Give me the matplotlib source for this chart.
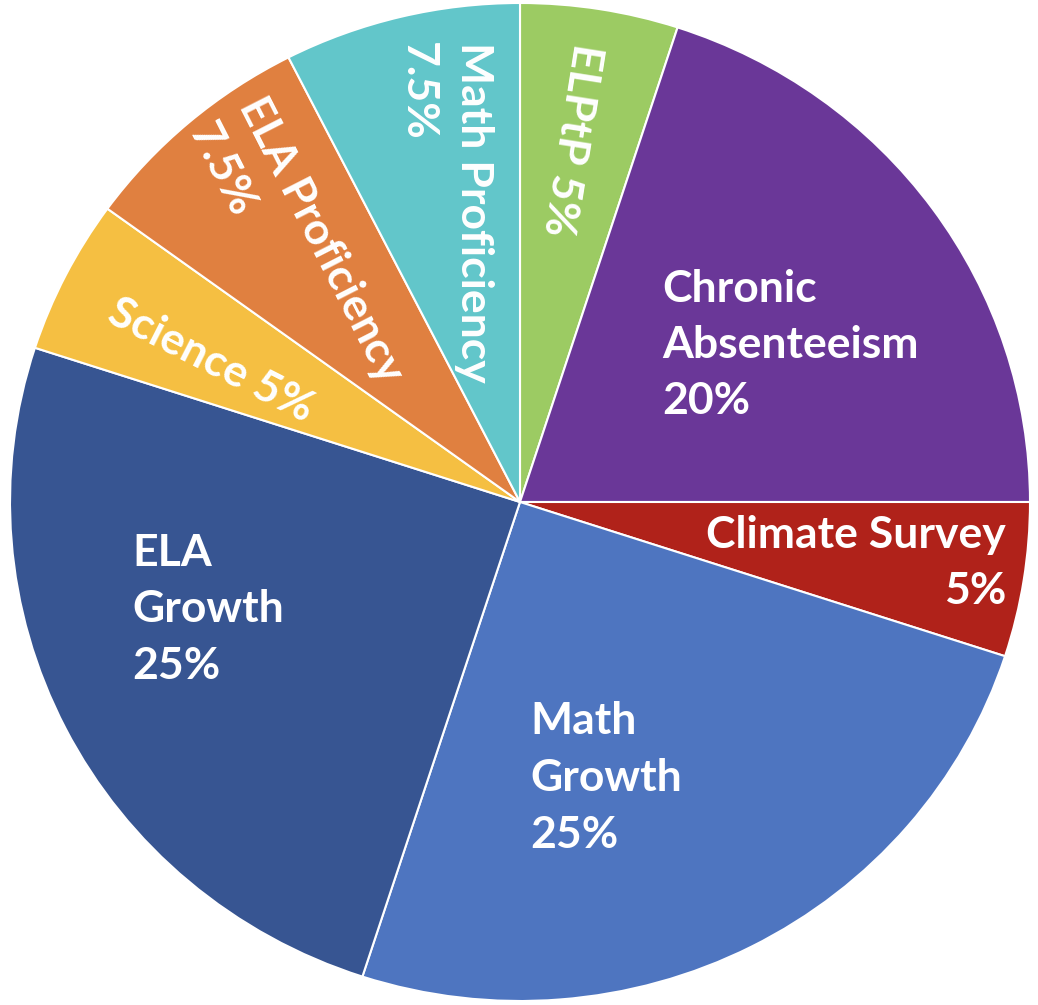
import matplotlib
matplotlib.use("Agg")
import matplotlib.pyplot as plt

# Daten
categories = ["ELPtP", "Chronic Absenteeism", "Climate Survey", "Math Growth",
              "ELA Growth", "Science", "ELA Proficiency", "Math Proficiency"]
weights = [5, 20, 5, 25, 25, 5, 7.5, 7.5]
label_texts = ["ELPtP 5%", "Chronic\nAbsenteeism\n20%", "Climate Survey\n5%",
               "Math\nGrowth\n25%", "ELA\nGrowth\n25%", "Science 5%",
               "ELA Proficiency\n7.5%", "Math Proficiency\n7.5%"]
colors = ["#9ccb63", "#6a3798", "#b0221a", "#4e75c0",
          "#375592", "#f5bf42", "#e08040", "#62c6ca"]

W, H = 1038, 1005
CX, CY, RX, RY = 520, 502, 510, 499

# Beschriftungen: (x px, y px, rotation, ha, multialignment)
label_layout = [
    (572, 140, -99, "center", "left"),
    (662, 345, 0, "left", "left"),
    (1006, 563, 0, "right", "right"),
    (530, 778, 0, "left", "left"),
    (132, 609, 0, "left", "left"),
    (211, 360, -27, "center", "left"),
    (296, 253, -63, "center", "left"),
    (446, 212, -90, "center", "left"),
]

fig = plt.figure(figsize=(W / 100, H / 100), dpi=100)
ax = fig.add_axes([0, 0, 1, 1])
ax.pie(weights, colors=colors, startangle=90, counterclock=False,
       wedgeprops=dict(edgecolor="white", linewidth=1.5))
ax.set_aspect("auto")
ax.set_xlim(-CX / RX, (W - CX) / RX)
ax.set_ylim(-(H - CY) / RY, CY / RY)
ax.axis("off")

for txt, (px, py, rot, ha, ma) in zip(label_texts, label_layout):
    fig.text(px / W, 1 - py / H, txt, color="white", fontsize=32,
             fontfamily="Lato", fontweight="bold", rotation=rot,
             rotation_mode="anchor", ha=ha, va="center", multialignment=ma,
             linespacing=1.5)

fig.savefig("out.png", dpi=100, facecolor="white")
